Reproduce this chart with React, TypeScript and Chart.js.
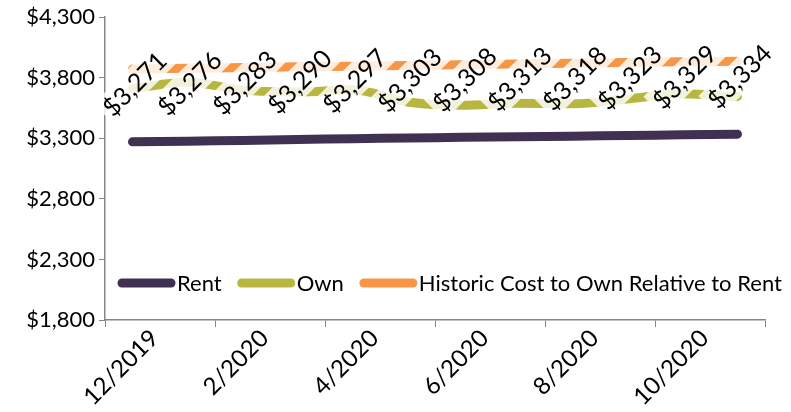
import React, { useEffect, useRef } from "react";
import { Chart, registerables } from "chart.js";

Chart.register(...registerables);

const categories = ["12/2019", "1/2020", "2/2020", "3/2020", "4/2020", "5/2020", "6/2020", "7/2020", "8/2020", "9/2020", "10/2020", "11/2020"];
const rentValues = [3271, 3276, 3283, 3290, 3297, 3303, 3308, 3313, 3318, 3323, 3329, 3334];
const ownValues = [3712, 3762, 3698, 3683, 3700, 3600, 3574, 3590, 3585, 3625, 3668, 3645];
const historicValues = [3872, 3878, 3884, 3890, 3896, 3902, 3908, 3914, 3920, 3926, 3932, 3936];
const seriesNames = ["Rent", "Own", "Historic Cost to Own Relative to Rent"];
const seriesColors = ["#403152", "#B7B641", "#F79646"];
const yTicks = [1800, 2300, 2800, 3300, 3800, 4300];

const FONT = "Lato, 'Noto Sans', sans-serif";
const AXIS = "#868686";

const fmt = (v: number) => "$" + v.toLocaleString("en-US");

const labelPlugin = {
  id: "customDraw",
  afterDraw(chart: any) {
    const ctx = chart.ctx;
    const xs = chart.scales.x;
    const ys = chart.scales.y;
    // data labels for Rent
    ctx.save();
    ctx.font = `25px ${FONT}`;
    ctx.textAlign = "center";
    ctx.textBaseline = "middle";
    rentValues.forEach((v, i) => {
      const x = xs.getPixelForValue(i) + 2;
      const y = ys.getPixelForValue(v) - 58;
      const text = fmt(v);
      const w = ctx.measureText(text).width + 8;
      const h = 30;
      ctx.save();
      ctx.translate(x, y);
      ctx.rotate(-Math.PI / 4);
      ctx.fillStyle = "rgba(255,255,255,0.82)";
      ctx.fillRect(-w / 2, -h / 2, w, h);
      ctx.fillStyle = "#000";
      ctx.fillText(text, 0, 1);
      ctx.restore();
    });
    ctx.restore();

    // legend
    const area = chart.chartArea;
    ctx.save();
    ctx.font = `22px ${FONT}`;
    ctx.textBaseline = "middle";
    ctx.textAlign = "left";
    const ly = area.bottom - 37;
    let lx = area.left + 17;
    seriesNames.forEach((name, i) => {
      ctx.strokeStyle = seriesColors[i];
      ctx.lineWidth = 9;
      ctx.lineCap = "round";
      ctx.beginPath();
      ctx.moveTo(lx, ly);
      ctx.lineTo(lx + 49, ly);
      ctx.stroke();
      ctx.fillStyle = "#000";
      ctx.fillText(name, lx + 55, ly + 1);
      lx += 55 + ctx.measureText(name).width + 20;
    });
    ctx.restore();
  },
};

export default function App() {
  const ref = useRef<HTMLCanvasElement>(null);
  useEffect(() => {
    if (!ref.current) return;
    const chart = new Chart(ref.current, {
      type: "line",
      data: {
        labels: categories,
        datasets: [
          { label: seriesNames[0], data: rentValues, borderColor: seriesColors[0], backgroundColor: seriesColors[0], borderWidth: 9, borderCapStyle: "round", pointRadius: 0, tension: 0.3 },
          { label: seriesNames[1], data: ownValues, borderColor: seriesColors[1], backgroundColor: seriesColors[1], borderWidth: 9, borderCapStyle: "round", pointRadius: 0, cubicInterpolationMode: "monotone" },
          { label: seriesNames[2], data: historicValues, borderColor: seriesColors[2], backgroundColor: seriesColors[2], borderWidth: 9, borderCapStyle: "round", pointRadius: 0, tension: 0.3 },
        ],
      } as any,
      options: {
        responsive: false,
        animation: false,
        devicePixelRatio: 1,
        layout: { padding: { top: 12, right: 26, left: 0, bottom: 0 } },
        plugins: { legend: { display: false }, tooltip: { enabled: false } },
        scales: {
          x: {
            type: "category",
            offset: true,
            grid: {
              offset: true,
              drawOnChartArea: false,
              drawTicks: true,
              tickLength: 7,
              tickColor: (c: any) => (c.index === undefined || c.index % 2 === 0 ? AXIS : "rgba(0,0,0,0)"),
            },
            border: { color: AXIS, width: 1.5 },
            ticks: {
              autoSkip: false,
              maxRotation: 45,
              minRotation: 45,
              labelOffset: 22,
              padding: -3,
              color: "#000",
              font: { family: FONT, size: 24 },
              callback: (_v: any, i: number) => (i % 2 === 0 ? categories[i] : ""),
            },
            afterFit: (s: any) => { s.height = 92; },
          },
          y: {
            min: 1800,
            max: 4300,
            afterBuildTicks: (s: any) => { s.ticks = yTicks.map((v) => ({ value: v })); },
            grid: { drawOnChartArea: false, drawTicks: true, tickLength: 6, color: AXIS },
            border: { color: AXIS, width: 1.5 },
            ticks: {
              color: "#000",
              padding: 4,
              font: { family: FONT, size: 22 },
              callback: (v: any) => fmt(Number(v)),
            },
            afterFit: (s: any) => { s.width = 105; },
          },
        },
      },
      plugins: [labelPlugin],
    });
    return () => chart.destroy();
  }, []);
  return (
    <div style={{ position: "fixed", left: 0, top: 0, width: 791, height: 412, background: "#fff" }}>
      <canvas ref={ref} width={791} height={412} style={{ display: "block" }} />
    </div>
  );
}
